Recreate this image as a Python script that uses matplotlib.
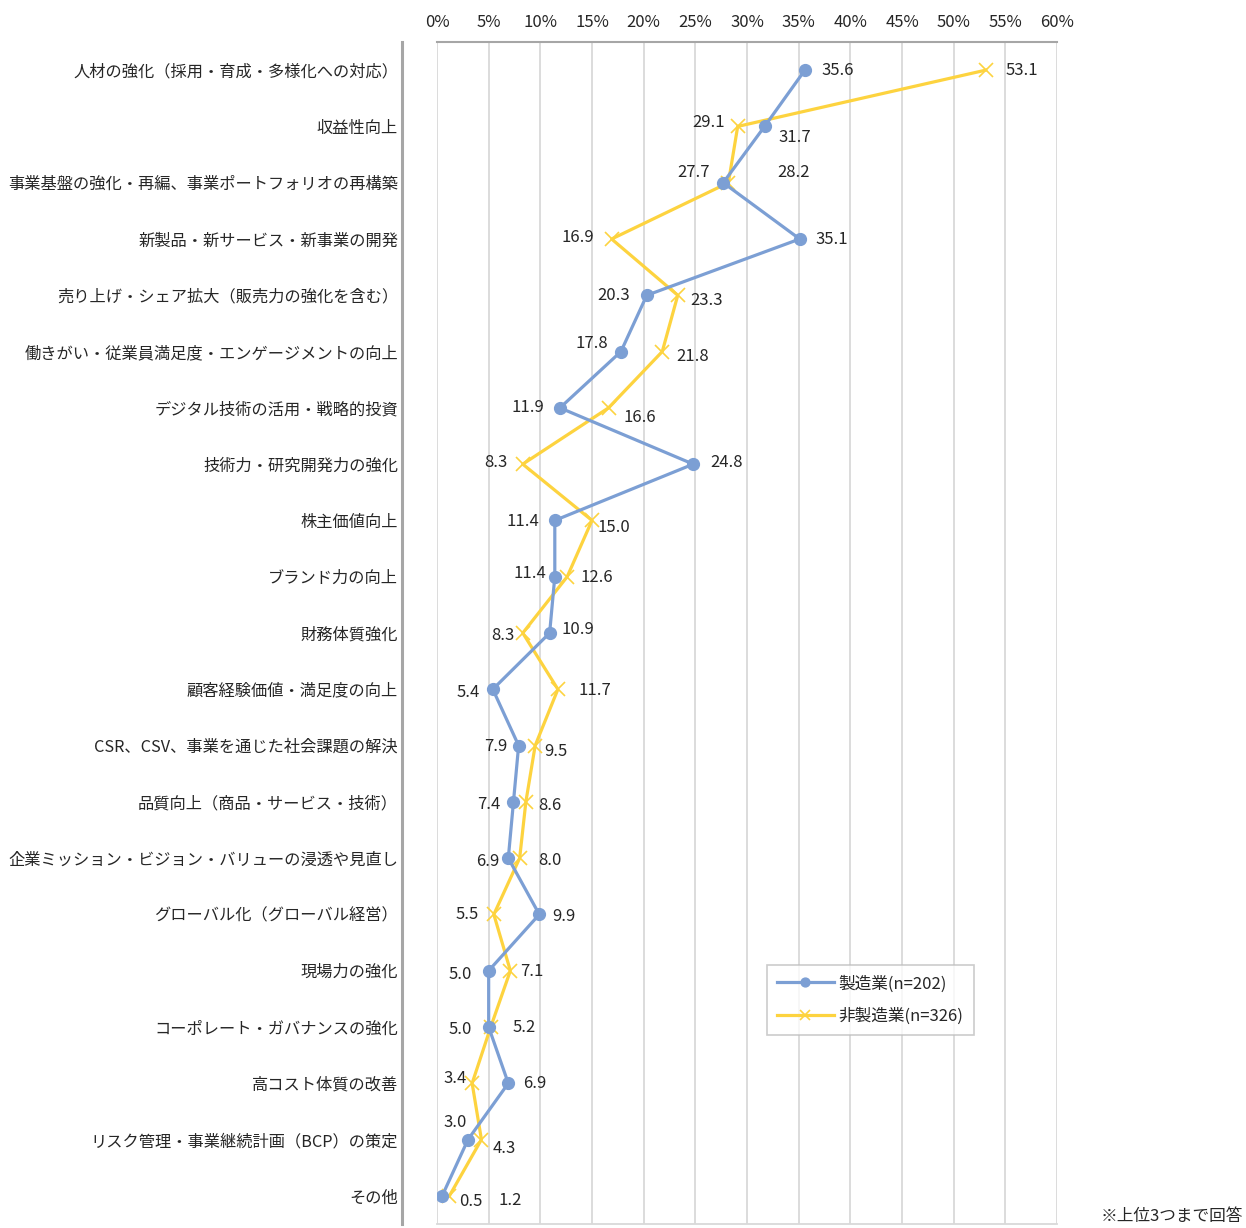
import matplotlib
matplotlib.use("Agg")
import matplotlib.pyplot as plt
from matplotlib.ticker import FuncFormatter

plt.rcParams['font.family'] = ['Noto Sans CJK JP', 'DejaVu Sans']

categories = [
    "人材の強化（採用・育成・多様化への対応）",
    "収益性向上",
    "事業基盤の強化・再編、事業ポートフォリオの再構築",
    "新製品・新サービス・新事業の開発",
    "売り上げ・シェア拡大（販売力の強化を含む）",
    "働きがい・従業員満足度・エンゲージメントの向上",
    "デジタル技術の活用・戦略的投資",
    "技術力・研究開発力の強化",
    "株主価値向上",
    "ブランド力の向上",
    "財務体質強化",
    "顧客経験価値・満足度の向上",
    "CSR、CSV、事業を通じた社会課題の解決",
    "品質向上（商品・サービス・技術）",
    "企業ミッション・ビジョン・バリューの浸透や見直し",
    "グローバル化（グローバル経営）",
    "現場力の強化",
    "コーポレート・ガバナンスの強化",
    "高コスト体質の改善",
    "リスク管理・事業継続計画（BCP）の策定",
    "その他",
]

manufacturing = [35.6, 31.7, 27.7, 35.1, 20.3, 17.8, 11.9, 24.8, 11.4, 11.4, 10.9,
                 5.4, 7.9, 7.4, 6.9, 9.9, 5.0, 5.0, 6.9, 3.0, 0.5]
non_manufacturing = [53.1, 29.1, 28.2, 16.9, 23.3, 21.8, 16.6, 8.3, 15.0, 12.6, 8.3,
                     11.7, 9.5, 8.6, 8.0, 5.5, 7.1, 5.2, 3.4, 4.3, 1.2]

series_names = ["製造業(n=202)", "非製造業(n=326)"]
x_ticks = [0, 5, 10, 15, 20, 25, 30, 35, 40, 45, 50, 55, 60]
note = "※上位3つまで回答"

# label offsets in pixels (dx right, dy down) for each value label
blue_offsets = [(33, 0), (30, 11), (-30, -10), (32, 0), (-33, 0), (-29, -8), (-32, 0),
                (33, -2), (-32, 1), (-25, -3), (28, -4), (-25, 3), (-23, 1), (-25, 3),
                (-21, 3), (25, 2), (-28, 4), (-28, 2), (26, 0), (-13, -17), (29, 6)]
yellow_offsets = [(36, 0), (-29, -4), (65, -10), (-34, -2), (29, 5), (30, 5), (31, 10),
                  (-27, -2), (22, 7), (30, 1), (-20, 2), (37, 1), (21, 6), (24, 4),
                  (30, 2), (-27, 0), (21, 1), (33, 1), (-17, -5), (23, 9), (61, 5)]

BLUE = "#7c9fd4"
YELLOW = "#fdd33f"
TEXT = "#262626"

W, H = 1246, 1228
fig = plt.figure(figsize=(W / 100, H / 100), dpi=100)
ax = fig.add_axes([437 / W, 1 - 1224 / H, (1057 - 437) / W, (1224 - 42) / H])

y = list(range(len(categories)))
ax.plot(manufacturing, y, color=BLUE, lw=2.3, marker='o', ms=8.5,
        mfc=BLUE, mec=BLUE, label=series_names[0], zorder=4)
ax.plot(non_manufacturing, y, color=YELLOW, lw=2.3, marker='x', ms=10,
        mew=1.2, mec=YELLOW, label=series_names[1], zorder=3)

for vals, offs in ((manufacturing, blue_offsets), (non_manufacturing, yellow_offsets)):
    for i, (v, (dx, dy)) in enumerate(zip(vals, offs)):
        ax.annotate(f"{v:.1f}", (v, i), xytext=(dx, -dy), textcoords='offset pixels',
                    ha='center', va='center', fontsize=12, color=TEXT, zorder=5)

ax.set_xlim(0, 60)
ax.set_ylim(len(categories) - 0.5, -0.5)
ax.set_xticks(x_ticks)
ax.xaxis.set_major_formatter(FuncFormatter(lambda v, p: f"{v:.0f}%"))
ax.xaxis.tick_top()
ax.tick_params(axis='x', length=0, pad=8, labelsize=12, labelcolor=TEXT)
ax.set_yticks(y)
ax.set_yticklabels(categories)
ax.tick_params(axis='y', length=0, pad=3, labelsize=11.7, labelcolor=TEXT)

ax.grid(axis='x', color='#d9d9d9', lw=1.3)
ax.set_axisbelow(True)
ax.spines['right'].set_visible(False)
ax.spines['top'].set_color('#a6a6a6')
ax.spines['top'].set_linewidth(1.5)
ax.spines['bottom'].set_color('#d9d9d9')
ax.spines['bottom'].set_linewidth(1.3)
ax.spines['left'].set_position(('outward', 25))
ax.spines['left'].set_color('#a6a6a6')
ax.spines['left'].set_linewidth(2.2)

leg = ax.legend(loc='upper left', bbox_to_anchor=((767 - 437) / 620, 1 - (965 - 42) / 1182),
                borderaxespad=0, fontsize=12, frameon=True, fancybox=False,
                edgecolor='#bfbfbf', handlelength=3.4, borderpad=0.6, labelspacing=0.9,
                handletextpad=0.3, markerscale=0.75)
leg.get_frame().set_linewidth(1.2)
for t in leg.get_texts():
    t.set_color(TEXT)

fig.text(1243 / W, 1 - 1216 / H, note, ha='right', va='center', fontsize=12, color=TEXT)

fig.savefig("out.png", dpi=100, facecolor='white')
